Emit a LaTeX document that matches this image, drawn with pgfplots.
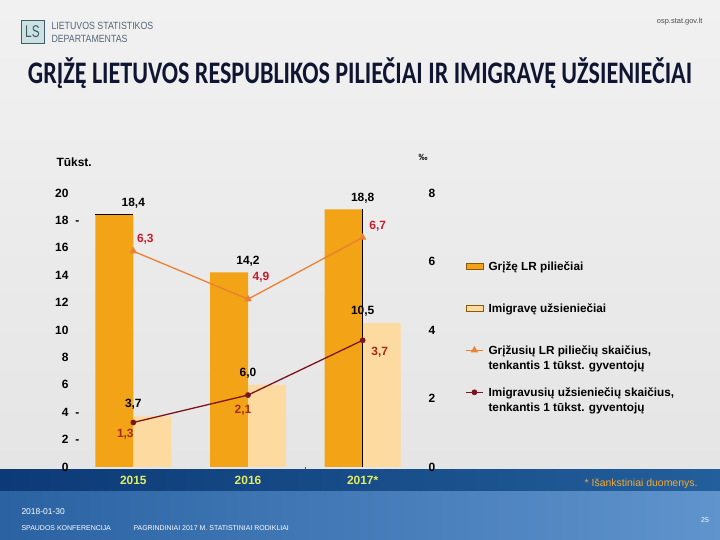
\documentclass[border=0pt]{standalone}
\usepackage{pgfplots}
\pgfplotsset{compat=1.18}
\usepackage{pgfplotstable}
\usepackage{fontspec}
\setmainfont{Liberation Sans}
\newfontfamily\titlefont{Carlito}

\definecolor{barDark}{RGB}{243,163,22}
\definecolor{barLight}{RGB}{253,218,160}
\definecolor{lineOrange}{RGB}{234,128,48}
\definecolor{lineRed}{RGB}{125,20,28}
\definecolor{lblRed}{RGB}{200,28,45}
\definecolor{lblBrown}{RGB}{165,42,22}
\definecolor{bandDarkL}{RGB}{12,58,118}
\definecolor{bandDarkR}{RGB}{35,95,155}
\definecolor{bandL}{RGB}{42,98,162}
\definecolor{bandR}{RGB}{95,148,205}
\definecolor{yearYellow}{RGB}{225,238,100}
\definecolor{noteOrange}{RGB}{245,170,50}
\definecolor{titleNavy}{RGB}{16,22,50}
\definecolor{logoFrame}{RGB}{60,95,110}
\definecolor{logoFill}{RGB}{205,225,225}
\definecolor{logoText}{RGB}{85,100,120}

% thousands
\pgfplotstableread{
x val
0 18.4
1 14.2
2 18.8
}\returned
\pgfplotstableread{
x val
0 3.7
1 6.0
2 10.5
}\immigrated
% per 1000 inhabitants
\pgfplotstableread{
x val
0 6.3
1 4.9
2 6.7
}\returnedrate
\pgfplotstableread{
x val
0 1.3
1 2.1
2 3.7
}\immigratedrate

\newcommand\numfont{\fontsize{12}{14}\selectfont\bfseries}

% value label next to a point: colour, xshift, yshift
\pgfplotsset{
  ratelabel/.style n args={3}{forget plot, draw=none, mark=none,
    nodes near coords={\pgfmathprintnumber[use comma,fixed,fixed zerofill,precision=1]{\pgfplotspointmeta}},
    nodes near coords style={font=\numfont, text=#1, anchor=center, xshift=#2, yshift=#3}},
}

\begin{document}
\begin{tikzpicture}[x=1bp,y=1bp]
\useasboundingbox (0,0) rectangle (720,540);
\shade[top color={rgb,255:red,241;green,241;blue,241}, bottom color={rgb,255:red,229;green,229;blue,229}] (0,70) rectangle (720,540);
\shade[left color=bandDarkL, right color=bandDarkR] (0,48) rectangle (720,70);
\shade[left color=bandL, right color=bandR] (0,0) rectangle (720,48);

% header
\draw[draw=logoFrame, fill=logoFill, line width=0.8bp] (21,497) rectangle (44,520);
\node[text=logoFrame, font=\fontsize{17}{17}\selectfont] at (32.5,508.5) {\scalebox{0.7}[1]{LS}};
\node[anchor=west, align=left, text=logoText, font=\fontsize{10.5}{13}\selectfont] at (48,507.5)
  {\scalebox{0.84}[1]{LIETUVOS STATISTIKOS}\\\scalebox{0.84}[1]{DEPARTAMENTAS}};
\node[anchor=east, text=black!70, font=\fontsize{7.5}{9}\selectfont] at (706,518) {osp.stat.gov.lt};
\node[text=titleNavy] at (360,467)
  {\scalebox{1}[1.3]{\resizebox{664bp}{!}{\titlefont\bfseries GRĮŽĘ LIETUVOS RESPUBLIKOS PILIEČIAI IR IMIGRAVĘ UŽSIENIEČIAI}}};

\node[anchor=west, font=\numfont] at (53,378) {Tūkst.};
\node[font=\fontsize{9}{10}\selectfont\bfseries] at (423,383) {‰};

\begin{axis}[
  at={(76bp,73bp)}, anchor=south west, scale only axis,
  width=344bp, height=274bp,
  xmin=-0.5, xmax=2.5, ymin=0, ymax=20,
  clip=false,
  axis line style={draw=none}, tick style={draw=none},
  xtick={0,1,2}, xticklabels={2015,2016,2017*},
  xticklabel style={font=\numfont, text=yearYellow, yshift=-6bp},
  ytick={0,2,...,20},
  yticklabels={0,{2\rlap{\hspace{7bp}-}},{4\rlap{\hspace{7bp}-}},6,8,10,12,14,16,{18\rlap{\hspace{7bp}-}},20},
  yticklabel style={font=\numfont, xshift=-4bp},
  /pgf/number format/assume math mode=true,
  bar width=38bp,
  nodes near coords={\pgfmathprintnumber[use comma,fixed,fixed zerofill,precision=1]{\pgfplotspointmeta}},
  nodes near coords style={font=\numfont, text=black, yshift=3bp},
]
\addplot[ybar, fill=barDark, draw=none, bar shift=-19bp] table[x=x,y=val]{\returned};
\addplot[ybar, fill=barLight, draw=none, bar shift=19bp] table[x=x,y=val]{\immigrated};
\draw[black, line width=1bp] (axis cs:-0.331,18.4) -- (axis cs:0,18.4);
\draw[black, line width=1bp] (axis cs:2,0) -- (axis cs:2,18.8);
\draw[black!70, line width=0.8bp] (axis cs:1.5,0) -- (axis cs:1.5,-0.2);
\end{axis}

\begin{axis}[
  at={(76bp,73bp)}, anchor=south west, scale only axis,
  width=344bp, height=274bp,
  xmin=-0.5, xmax=2.5, ymin=0, ymax=8,
  clip=false,
  hide x axis,
  axis y line*=right,
  axis line style={draw=none}, tick style={draw=none},
  ytick={0,2,...,8},
  yticklabel style={font=\numfont, xshift=5bp},
  /pgf/number format/assume math mode=true,
  legend cell align=left,
  legend style={at={(rel axis cs:1.131,0.766)}, anchor=north west,
    draw=none, fill=none, inner sep=0pt, row sep=0pt, column sep=5bp,
    font=\fontsize{11.8}{15}\selectfont\bfseries,
    nodes={anchor=base west, inner sep=0pt, text height=13bp, text depth=29bp}},
  every legend image post/.append style={yshift=4bp},
]
\addlegendimage{area legend, fill=barDark, draw=barDark!55!black, line width=0.6bp}
\addlegendentry{Grįžę LR piliečiai}
\addlegendimage{area legend, fill=barLight, draw=barDark!55!black, line width=0.6bp}
\addlegendentry{Imigravę užsieniečiai}

\addplot[lineOrange, line width=1.3bp, mark=triangle*, mark size=3bp,
  mark options={fill=lineOrange}] table[x=x,y=val]{\returnedrate};
\addlegendentry{\begin{tabular}[t]{@{}l@{}}Grįžusių LR piliečių skaičius,\\tenkantis 1 tūkst. gyventojų\end{tabular}}

\addplot[lineRed, line width=1.3bp, mark=*, mark size=2.2bp,
  mark options={fill=lineRed}] table[x=x,y=val]{\immigratedrate};
\addlegendentry{\begin{tabular}[t]{@{}l@{}}Imigravusių užsieniečių skaičius,\\tenkantis 1 tūkst. gyventojų\end{tabular}}

\addplot[ratelabel={lblRed}{12bp}{12bp}] coordinates {(0,6.3)};
\addplot[ratelabel={lblRed}{13bp}{22bp}] coordinates {(1,4.9)};
\addplot[ratelabel={lblRed}{15bp}{11bp}] coordinates {(2,6.7)};
\addplot[ratelabel={lblBrown}{-8bp}{-12bp}] coordinates {(0,1.3)};
\addplot[ratelabel={lblBrown}{-5bp}{-15bp}] coordinates {(1,2.1)};
\addplot[ratelabel={lblBrown}{17bp}{-12bp}] coordinates {(2,3.7)};
\end{axis}

% footer
\node[anchor=east, text=noteOrange, font=\fontsize{10.5}{12}\selectfont] at (701,56) {* Išankstiniai duomenys.};
\node[anchor=west, text=white, font=\fontsize{8.5}{10}\selectfont] at (18,28) {2018-01-30};
\node[anchor=west, text=white, font=\fontsize{7}{8}\selectfont] at (18,12) {SPAUDOS KONFERENCIJA};
\node[anchor=west, text=white, font=\fontsize{7}{8}\selectfont] at (130,12) {PAGRINDINIAI 2017 M. STATISTINIAI RODIKLIAI};
\node[text=white, font=\fontsize{7}{8}\selectfont] at (705,20) {25};
\end{tikzpicture}
\end{document}
